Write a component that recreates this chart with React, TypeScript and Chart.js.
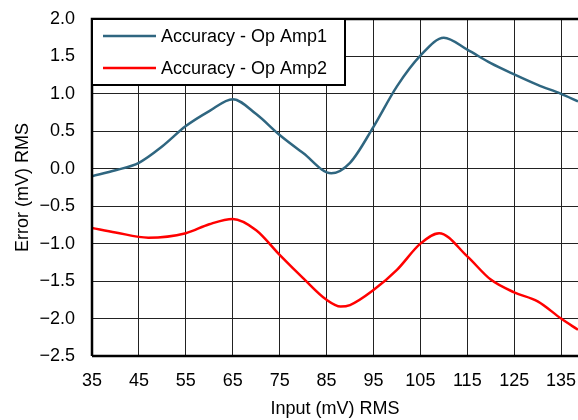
import React, { useEffect, useRef } from "react";
import { Chart, registerables } from "chart.js";

Chart.register(...registerables);

const inputs1 = [35, 40, 45, 50, 55, 60, 65, 70, 75, 80, 86, 90, 95, 100, 105, 110, 115, 120, 125, 130, 135, 138.6];
const opAmp1 = [-0.1, -0.02, 0.08, 0.3, 0.57, 0.77, 0.93, 0.73, 0.45, 0.21, -0.06, 0.08, 0.56, 1.1, 1.51, 1.75, 1.59, 1.41, 1.26, 1.12, 1.0, 0.9];
const inputs2 = [35, 40, 47, 55, 60, 65, 70, 75, 80, 85, 88, 90, 95, 100, 105, 109, 115, 120, 125, 130, 135, 138.6];
const opAmp2 = [-0.79, -0.85, -0.92, -0.86, -0.74, -0.67, -0.82, -1.15, -1.46, -1.75, -1.84, -1.82, -1.62, -1.35, -1.0, -0.86, -1.17, -1.48, -1.65, -1.77, -2.0, -2.15];
const seriesNames = ["Accuracy - Op Amp1", "Accuracy - Op Amp2"];
const seriesColors = ["#2f6680", "#ff0000"];
const xTitle = "Input (mV) RMS";
const yTitle = "Error (mV) RMS";

const FONT = "'Liberation Sans', Arial, sans-serif";

const framePlugin = {
  id: "frame",
  afterDraw(chart: any) {
    const { ctx, chartArea } = chart;
    const { left, top, right, bottom } = chartArea;
    ctx.save();
    ctx.strokeStyle = "#000";
    ctx.lineWidth = 2.5;
    ctx.beginPath();
    ctx.moveTo(left, bottom);
    ctx.lineTo(left, top);
    ctx.lineTo(right, top);
    ctx.moveTo(left, bottom);
    ctx.lineTo(right, bottom);
    ctx.stroke();

    // legend box
    const bx = left, by = top, bw = 253, bh = 66;
    ctx.fillStyle = "#fff";
    ctx.fillRect(bx, by, bw, bh);
    ctx.lineWidth = 2;
    ctx.strokeRect(bx, by, bw, bh);
    ctx.font = "18px " + FONT;
    ctx.textBaseline = "middle";
    ctx.textAlign = "left";
    const rows = [by + 17, by + 49];
    seriesNames.forEach((name, i) => {
      ctx.strokeStyle = seriesColors[i];
      ctx.lineWidth = 2.5;
      ctx.beginPath();
      ctx.moveTo(bx + 11, rows[i]);
      ctx.lineTo(bx + 64, rows[i]);
      ctx.stroke();
      ctx.fillStyle = "#000";
      ctx.fillText(name, bx + 69, rows[i] + 1);
    });
    ctx.restore();
  },
};

export default function App() {
  const ref = useRef<HTMLCanvasElement>(null);
  useEffect(() => {
    if (!ref.current) return;
    const chart = new Chart(ref.current, {
      type: "line",
      data: {
        datasets: [
          {
            label: seriesNames[0],
            data: inputs1.map((x, i) => ({ x, y: opAmp1[i] })),
            borderColor: seriesColors[0],
            borderWidth: 2.5,
            pointRadius: 0,
            cubicInterpolationMode: "monotone",
            fill: false,
          },
          {
            label: seriesNames[1],
            data: inputs2.map((x, i) => ({ x, y: opAmp2[i] })),
            borderColor: seriesColors[1],
            borderWidth: 2.5,
            pointRadius: 0,
            cubicInterpolationMode: "monotone",
            fill: false,
          },
        ],
      },
      options: {
        responsive: false,
        animation: false,
        layout: { padding: { top: 19, right: 0, left: 0, bottom: 0 } },
        plugins: { legend: { display: false }, tooltip: { enabled: false } },
        scales: {
          x: {
            type: "linear",
            min: 35,
            max: 138.6,
            afterBuildTicks: (scale: any) => {
              const t = [];
              for (let v = 35; v <= 135; v += 10) t.push({ value: v });
              scale.ticks = t;
            },
            afterFit: (scale: any) => {
              scale.height = 64;
              scale.paddingLeft = 0;
              scale.paddingRight = 0;
            },
            grid: { color: "#222", lineWidth: 1, drawTicks: false },
            border: { display: false },
            ticks: {
              color: "#000",
              font: { family: FONT, size: 18 },
              padding: 14,
              maxRotation: 0,
              callback: (v: any) => String(v),
            },
            title: {
              display: true,
              text: xTitle,
              color: "#000",
              font: { family: FONT, size: 18 },
              padding: { top: 0, bottom: 0 },
            },
          },
          y: {
            type: "linear",
            min: -2.5,
            max: 2,
            afterFit: (scale: any) => {
              scale.width = 92;
              scale.paddingTop = 0;
              scale.paddingBottom = 0;
            },
            grid: { color: "#222", lineWidth: 1, drawTicks: false },
            border: { display: false },
            ticks: {
              stepSize: 0.5,
              color: "#000",
              font: { family: FONT, size: 18 },
              padding: 17,
              callback: (v: any) => {
                const n = Number(v);
                const s = Math.abs(n).toFixed(1);
                return n < 0 ? "\u2212" + s : s;
              },
            },
            title: {
              display: true,
              text: yTitle,
              color: "#000",
              font: { family: FONT, size: 18 },
              padding: { top: 12, bottom: 0 },
            },
          },
        },
      },
      plugins: [framePlugin],
    } as any);
    return () => chart.destroy();
  }, []);
  return (
    <div style={{ position: "absolute", left: 0, top: 0, width: 578, height: 420, background: "#fff" }}>
      <canvas ref={ref} width={578} height={420} />
    </div>
  );
}
